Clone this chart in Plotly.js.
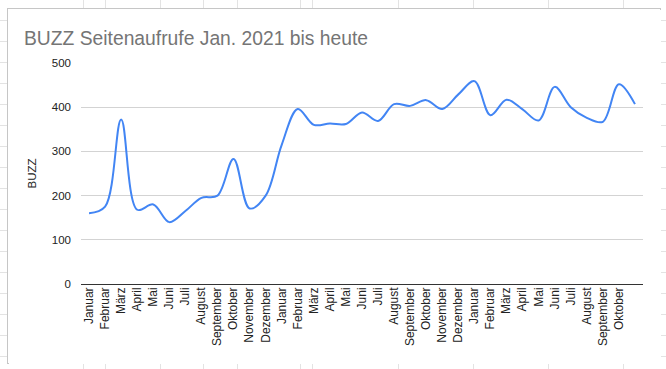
<!DOCTYPE html>
<html>
<head>
<meta charset="utf-8">
<script src="https://cdn.plot.ly/plotly-3.0.1.min.js"></script>
<style>
  html, body { margin: 0; padding: 0; width: 666px; height: 369px; overflow: hidden; }
  body {
    background-color: #ffffff;
    background-image: repeating-linear-gradient(to bottom, transparent 0px, transparent 20px, #e3e3e3 20px, #e3e3e3 21px);
    position: relative;
  }
  .col { position: absolute; top: 0; width: 1px; height: 369px; background: #e3e3e3; }
  #box {
    position: absolute; left: 7px; top: 8px; width: 654px; height: 356px;
    background: #ffffff; border: 1px solid #c6c6c6; box-sizing: border-box;
  }
  #chart { position: absolute; left: 1px; top: 1px; width: 652px; height: 354px; }
</style>
</head>
<body>
<div class="col" style="left:83px"></div>
<div class="col" style="left:105px"></div>
<div class="col" style="left:160px"></div>
<div class="col" style="left:203px"></div>
<div class="col" style="left:237px"></div>
<div class="col" style="left:300px"></div>
<div class="col" style="left:312px"></div>
<div class="col" style="left:398px"></div>
<div class="col" style="left:473px"></div>
<div class="col" style="left:548px"></div>
<div class="col" style="left:623px"></div>
<div id="box"><div id="chart"></div></div>
<script>
// Months Jan 2021 .. Nov 2023 (last month has no visible label in the reference)
const monthLabels = [
  "Januar","Februar","März","April","Mai","Juni","Juli","August","September","Oktober","November","Dezember",
  "Januar","Februar","März","April","Mai","Juni","Juli","August","September","Oktober","November","Dezember",
  "Januar","Februar","März","April","Mai","Juni","Juli","August","September","Oktober"
];
const buzzValues = [
  160, 175, 372, 168, 180, 140, 165, 195, 200, 283, 171, 200,
  315, 396, 360, 363, 362, 388, 369, 407, 403, 416, 396, 429,
  459, 382, 417, 395, 370, 446, 400, 376, 367, 452, 407
];
const yTicks = [0, 100, 200, 300, 400, 500];

const xIdx = buzzValues.map((_, i) => i);
const tickIdx = monthLabels.map((_, i) => i);

const FONT = '"Liberation Sans", Arial, sans-serif';

Plotly.newPlot('chart', [{
  x: xIdx,
  y: buzzValues,
  type: 'scatter',
  mode: 'lines',
  line: { color: '#4285f4', width: 2, shape: 'spline', smoothing: 1 },
  hoverinfo: 'none'
}], {
  width: 652, height: 354,
  margin: { l: 72, r: 18, t: 53, b: 80 },
  paper_bgcolor: '#ffffff',
  plot_bgcolor: '#ffffff',
  showlegend: false,
  font: { family: FONT, color: '#222222', size: 11 },
  title: {
    text: 'BUZZ Seitenaufrufe Jan. 2021 bis heute',
    font: { family: FONT, size: 19.3, color: '#757575' },
    xref: 'container', yref: 'container',
    x: 15 / 652, xanchor: 'left',
    y: 1 - 28 / 354, yanchor: 'middle'
  },
  xaxis: {
    range: [-0.5, 34.5],
    tickmode: 'array',
    tickvals: tickIdx,
    ticktext: monthLabels,
    tickangle: -90,
    showgrid: false,
    zeroline: false,
    showline: false,
    ticks: '',
    tickfont: { family: FONT, size: 12, color: '#222222' },
    fixedrange: true
  },
  yaxis: {
    range: [0, 500],
    tickmode: 'array',
    tickvals: yTicks,
    ticktext: yTicks.map(String),
    showgrid: true,
    gridcolor: '#d3d3d3',
    gridwidth: 1,
    zeroline: true,
    zerolinecolor: '#333333',
    zerolinewidth: 1,
    showline: false,
    ticks: '',
    ticklabelstandoff: 9,
    tickfont: { family: FONT, size: 11.5, color: '#222222' },
    title: { text: 'BUZZ', font: { family: FONT, size: 11.5, color: '#222222' }, standoff: 12 },
    fixedrange: true
  }
}, { staticPlot: true, displayModeBar: false });
</script>
</body>
</html>
